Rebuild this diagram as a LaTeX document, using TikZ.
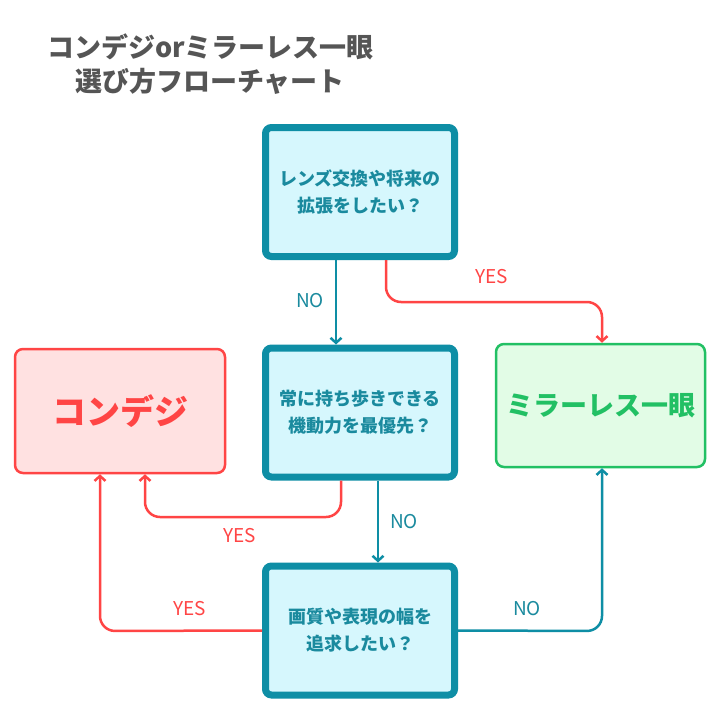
\documentclass[tikz,border=0pt]{standalone}
\usepackage{fontspec}
\newfontfamily\cjk{Noto Sans CJK JP}
\usetikzlibrary{arrows.meta}
\definecolor{teal1}{HTML}{0E8EA5}
\definecolor{tealtext}{HTML}{1A8A9E}
\definecolor{cyanfill}{HTML}{D6F7FD}
\definecolor{red1}{HTML}{FF4545}
\definecolor{redfill}{HTML}{FFE1E1}
\definecolor{green1}{HTML}{22C064}
\definecolor{greenfill}{HTML}{E2FCE6}
\definecolor{titlegray}{HTML}{555555}
\tikzset{
  qbox/.style={draw=teal1, line width=7pt, fill=cyanfill, rounded corners=6pt,
    minimum width=189pt, minimum height=129pt, inner sep=0pt, align=center,
    text=tealtext, font=\cjk\bfseries\fontsize{18}{27}\selectfont},
  ansred/.style={draw=red1, line width=2.5pt, fill=redfill, rounded corners=8pt,
    minimum width=210pt, minimum height=124pt, inner sep=0pt,
    text=red1, font=\cjk\bfseries\fontsize{34}{38}\selectfont},
  ansgreen/.style={draw=green1, line width=2.5pt, fill=greenfill, rounded corners=8pt,
    minimum width=209pt, minimum height=123pt, inner sep=0pt,
    text=green1, font=\cjk\bfseries\fontsize{27}{30}\selectfont},
  conn/.style={line width=2.5pt, rounded corners=15pt,
    -{Straight Barb[length=5pt,width=11pt,line width=2.5pt]}},
  yes/.style={conn, draw=red1},
  no/.style={conn, draw=teal1},
  lbl/.style={font=\cjk\fontsize{19}{21}\selectfont},
  ttl/.style={anchor=west, text=titlegray, font=\cjk\bfseries\fontsize{27}{30}\selectfont, inner sep=0pt},
}
\begin{document}
\begin{tikzpicture}[x=1pt,y=-1pt]
\useasboundingbox (0,0) rectangle (720,720);
\fill[white] (0,0) rectangle (720,720);
% title
\node[ttl] (t1) at (47,47) {コンデジorミラーレス一眼};
\node[ttl] (t2) at (75,81) {選び方フローチャート};
% boxes
\node[qbox] (q1) at (360,192) {レンズ交換や将来の\\拡張をしたい？};
\node[qbox] (q2) at (360,412.5) {常に持ち歩きできる\\機動力を最優先？};
\node[qbox] (q3) at (360,630.5) {画質や表現の幅を\\追求したい？};
\node[ansred] (a1) at (120,411) {コンデジ};
\node[ansgreen] (a2) at (600.5,405.5) {ミラーレス一眼};
% connectors
\draw[no] (q1.south -| 336,0) -- (q2.north -| 336,0);
\node[lbl, text=tealtext] (n1) at (310,301) {NO};
\draw[yes] (q1.south -| 386,0) -- (386,302) -- (602,302) -- (a2.north -| 602,0);
\node[lbl, text=red1] (y1) at (492,277) {YES};
\draw[yes] (q2.south -| 341,0) -- (341,517) -- (145,517) -- (a1.south -| 145,0);
\node[lbl, text=red1] (y2) at (240,536) {YES};
\draw[no] (q2.south -| 378,0) -- (q3.north -| 378,0);
\node[lbl, text=tealtext] (n2) at (404,522) {NO};
\draw[yes] (q3.west) -- (100,631) -- (a1.south -| 100,0);
\node[lbl, text=red1] (y3) at (190,609) {YES};
\draw[no] (q3.east) -- (602,631) -- (a2.south -| 602,0);
\node[lbl, text=tealtext] (n3) at (527,609) {NO};
\end{tikzpicture}
\end{document}
